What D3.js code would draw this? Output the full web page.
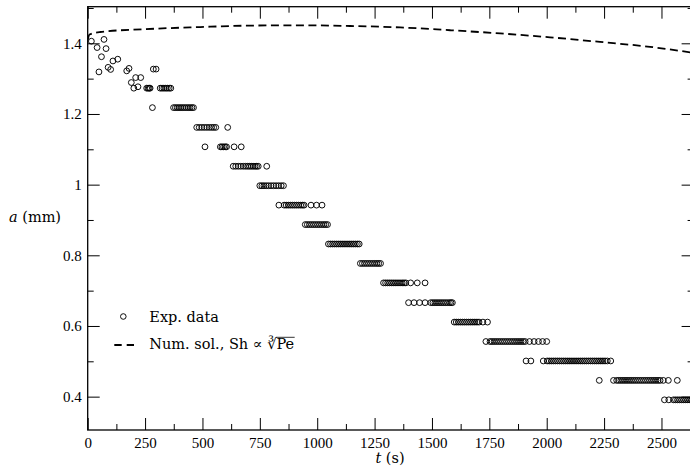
<!DOCTYPE html>
<html><head><meta charset="utf-8">
<script src="https://cdn.jsdelivr.net/npm/d3@7"></script>
<style>body{margin:0;background:#fff;overflow:hidden}</style>
</head><body>
<svg id="c" width="690" height="469"></svg>
<script>
// ---- data ----
const xTicks = [0,250,500,750,1000,1250,1500,1750,2000,2250,2500];
const xMinor = [125,375,625,875,1125,1375,1625,1875,2125,2375,2625];
const yTicks = [0.4,0.6,0.8,1.0,1.2,1.4];
const yTickLabels = ["0.4","0.6","0.8","1","1.2","1.4"];
const yMinor = [0.5,0.7,0.9,1.1,1.3,1.5];

// scattered early experimental points
const earlyT = [16,41,49,60,71,80,89,100,110,131,170,180,190,209,219,231,286,298];
const earlyA = [1.406,1.388,1.319,1.362,1.411,1.385,1.332,1.326,1.350,1.355,1.322,1.329,1.289,1.303,1.277,1.303,1.327,1.327];

// quantised experimental levels and the times at which each was recorded
const bandA = [1.273,1.218,1.162,1.107,1.052,0.997,0.942,0.887,0.832,0.777,0.722,0.666,0.611,0.556,0.501,0.446,0.391];
const bandT = [
  [201,257,263,268,272,316,324,332,340,347,355,362],
  [282,374,382,390,398,406,414,422,430,438,446,454,461],
  [475,486,497,508,519,530,540,549,558,610],
  [511,578,585,592,599,605,638,669],
  [634,645,656,667,678,688,697,705,713,721,729,736,743,780],
  [750,759,768,778,788,799,810,821,832,843,853],
  [833,856,865,874,883,892,901,910,919,928,936,943,973,997,1021],
  [948,957,966,975,984,993,1002,1011,1020,1029,1037,1045],
  [1049,1058,1067,1076,1085,1094,1103,1112,1121,1130,1139,1148,1157,1166,1175,1183],
  [1188,1197,1206,1215,1224,1233,1242,1251,1260,1268,1276],
  [1289,1298,1307,1316,1325,1334,1343,1352,1361,1370,1378,1386,1407,1436,1470],
  [1398,1422,1446,1470,1495,1504,1513,1522,1531,1540,1549,1558,1567,1576,1583,1589],
  [1597,1606,1615,1624,1633,1642,1651,1660,1669,1678,1687,1696,1705,1722,1742],
  [1735,1753,1762,1771,1780,1789,1798,1807,1816,1825,1834,1843,1852,1861,1870,1879,1888,1897,1906,1925,1945,1964,1982,2000],
  [1910,1931,1985,2002,2011,2020,2029,2038,2047,2056,2065,2074,2083,2092,2101,2110,2119,2128,2137,2146,2155,2164,2173,2182,2191,2200,2209,2218,2227,2236,2245,2254,2264,2279],
  [2229,2291,2305,2314,2323,2332,2341,2350,2359,2368,2377,2386,2395,2404,2413,2422,2431,2440,2449,2458,2467,2476,2485,2494,2508,2530,2569],
  [2513,2532,2552,2561,2570,2579,2588,2597,2606,2615,2624,2633]
];

// numerical solution
const numT = [0,8,54,250,490,700,926,1143,1361,1579,1797,2014,2232,2450,2640];
const numA = [1.410,1.425,1.432,1.440,1.446,1.450,1.451,1.449,1.445,1.437,1.428,1.417,1.404,1.390,1.373];

// ---- chart ----
const svg = d3.select("#c");
const L = 87.7, R = 693.6, T = 6.7, B = 430;
const x = d3.scaleLinear().domain([0, 2640]).range([L, R]);
const y = d3.scaleLinear().domain([0.3056, 1.5036]).range([B, T]);
const tickFont = "'Liberation Serif', 'Times New Roman', serif";
const cmFont = "'DejaVu Serif', serif";

svg.append("clipPath").attr("id","clip").append("rect")
  .attr("x", L).attr("y", T).attr("width", R-L).attr("height", B-T);

const plot = svg.append("g").attr("clip-path","url(#clip)");

// experimental points
const pts = [];
earlyT.forEach((t,i)=>pts.push([t, earlyA[i]]));
bandT.forEach((arr,i)=>arr.forEach(t=>pts.push([t, bandA[i]])));
plot.selectAll("circle.d").data(pts).join("circle").attr("class","d")
  .attr("cx", d=>x(d[0])).attr("cy", d=>y(d[1])).attr("r", 2.9)
  .attr("fill","none").attr("stroke","#000").attr("stroke-width",0.95);

// numerical line
const line = d3.line().x(d=>x(d[0])).y(d=>y(d[1])).curve(d3.curveMonotoneX);
plot.append("path").datum(numT.map((t,i)=>[t,numA[i]]))
  .attr("d", line).attr("fill","none").attr("stroke","#000")
  .attr("stroke-width",1.8).attr("stroke-dasharray","8,4.5");

// axes
function styleAxis(g){
  g.select(".domain").remove();
  g.selectAll(".tick line").attr("stroke","#000").attr("stroke-width",1);
  g.selectAll(".tick text").attr("font-family",tickFont).attr("font-size",15).attr("fill","#000");
}
svg.append("g").attr("transform",`translate(0,${B})`)
  .call(d3.axisBottom(x).tickValues(xTicks).tickSize(-12).tickPadding(7.3).tickFormat(d3.format("d")))
  .call(styleAxis);
svg.append("g").attr("transform",`translate(0,${B})`)
  .call(d3.axisBottom(x).tickValues(xMinor).tickSize(-6).tickFormat(""))
  .call(styleAxis);
svg.append("g").attr("transform",`translate(0,${T})`)
  .call(d3.axisTop(x).tickValues(xTicks).tickSize(-12).tickFormat(""))
  .call(styleAxis);
svg.append("g").attr("transform",`translate(0,${T})`)
  .call(d3.axisTop(x).tickValues(xMinor).tickSize(-6).tickFormat(""))
  .call(styleAxis);
svg.append("g").attr("transform",`translate(${L},0)`)
  .call(d3.axisLeft(y).tickValues(yTicks).tickSize(-12).tickPadding(6).tickFormat((d,i)=>yTickLabels[i]))
  .call(styleAxis);
svg.append("g").attr("transform",`translate(${L},0)`)
  .call(d3.axisLeft(y).tickValues(yMinor).tickSize(-6).tickFormat(""))
  .call(styleAxis);
svg.append("g").attr("transform",`translate(${R},0)`)
  .call(d3.axisRight(y).tickValues(yTicks).tickSize(-12).tickFormat(""))
  .call(styleAxis);
svg.append("g").attr("transform",`translate(${R},0)`)
  .call(d3.axisRight(y).tickValues(yMinor).tickSize(-6).tickFormat(""))
  .call(styleAxis);

// frame
svg.append("rect").attr("x",L).attr("y",T).attr("width",R-L).attr("height",B-T)
  .attr("fill","none").attr("stroke","#000").attr("stroke-width",1.3);

// axis labels
const xl = svg.append("text").attr("x",390).attr("y",463).attr("text-anchor","middle")
  .attr("font-family",cmFont).attr("font-size",14.5).attr("fill","#000");
xl.append("tspan").attr("font-style","italic").text("t");
xl.append("tspan").text(" (s)");
const yl = svg.append("text").attr("x",35).attr("y",222).attr("text-anchor","middle")
  .attr("font-family",cmFont).attr("font-size",14.5).attr("fill","#000");
yl.append("tspan").attr("font-style","italic").text("a");
yl.append("tspan").text(" (mm)");

// legend
const lg = svg.append("g");
lg.append("circle").attr("cx",123.3).attr("cy",316.5).attr("r",2.8)
  .attr("fill","none").attr("stroke","#000").attr("stroke-width",0.95);
lg.append("text").attr("x",149.3).attr("y",321.5).attr("font-family",cmFont)
  .attr("font-size",14.5).attr("fill","#000").text("Exp. data");
lg.append("line").attr("x1",114.3).attr("x2",134).attr("y1",345).attr("y2",345)
  .attr("stroke","#000").attr("stroke-width",1.8).attr("stroke-dasharray","7.4,5");
const t2 = lg.append("text").attr("x",149.3).attr("y",349).attr("font-family",cmFont)
  .attr("font-size",14.5).attr("fill","#000");
const s1 = t2.append("tspan").text("Num. sol., Sh \u221D ");
const s2 = t2.append("tspan").text("\u221B");
const s3 = t2.append("tspan").text("Pe");
const n1 = t2.node();
const full = n1.getComputedTextLength();
const pe = s3.node().getComputedTextLength();
const xe = 149.3 + full;
lg.append("line").attr("x1", xe - pe - 0.5).attr("x2", xe + 0.5)
  .attr("y1", 337.3).attr("y2", 337.3).attr("stroke","#000").attr("stroke-width",0.8);
</script>
</body></html>
